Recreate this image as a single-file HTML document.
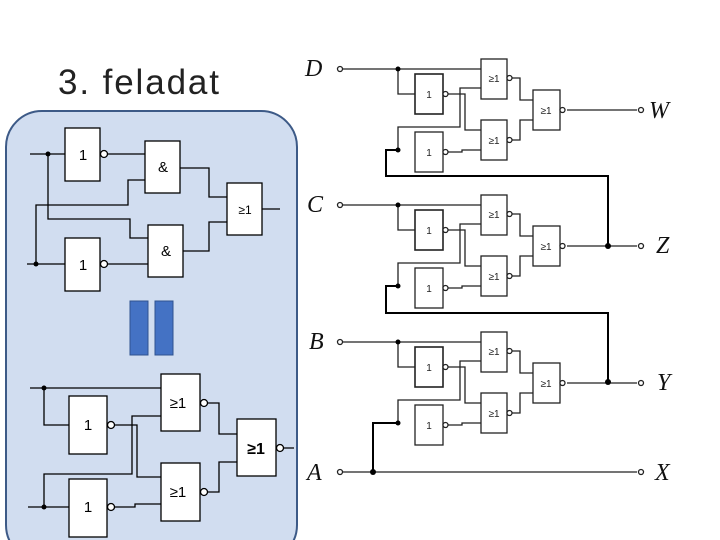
<!DOCTYPE html>
<html><head><meta charset="utf-8"><style>
html,body{margin:0;padding:0;background:#fff;width:720px;height:540px;overflow:hidden}
svg{display:block}
text{font-family:"Liberation Sans",sans-serif}
.it text{font-family:"Liberation Serif",serif;font-style:italic;font-size:24px}
</style></head><body>
<svg width="720" height="540" viewBox="0 0 720 540" xmlns="http://www.w3.org/2000/svg">
<text x="58" y="94" font-size="35" fill="#222" textLength="161" lengthAdjust="spacing">3. feladat</text>
<rect x="6" y="111" width="291" height="450" rx="36" fill="#d1ddf0" stroke="#3d5a87" stroke-width="2"/>
<g fill="none" stroke="#000" stroke-width="1.3">
<rect x="65" y="128" width="35" height="53" fill="#fff"/>
<rect x="65" y="238" width="35" height="53" fill="#fff"/>
<rect x="145" y="141" width="35" height="52" fill="#fff"/>
<rect x="148" y="225" width="35" height="52" fill="#fff"/>
<rect x="227" y="183" width="35" height="52" fill="#fff"/>
<circle cx="104" cy="154" r="3.5" fill="#fff"/>
<circle cx="104" cy="264" r="3.5" fill="#fff"/>
<path d="M30 154H65M108 154H145M27 264H65M108 264H148M48 154V219H130V238H148M36 264V205H128V180H145M180 168H209V197H227M183 251H209V222H227M262 209H280"/>
<rect x="161" y="374" width="39" height="57" fill="#fff"/>
<rect x="161" y="463" width="39" height="58" fill="#fff"/>
<rect x="69" y="396" width="38" height="58" fill="#fff"/>
<rect x="69" y="479" width="38" height="58" fill="#fff"/>
<rect x="237" y="419" width="39" height="57" fill="#fff"/>
<circle cx="111" cy="425" r="3.5" fill="#fff"/>
<circle cx="111" cy="507" r="3.5" fill="#fff"/>
<circle cx="204" cy="403" r="3.5" fill="#fff"/>
<circle cx="204" cy="492" r="3.5" fill="#fff"/>
<circle cx="280" cy="448" r="3.5" fill="#fff"/>
<path d="M30 388H161M44 388V425H69M28 507H69M44 507V474H132V416H161M115 425H137V477H161M115 507H135V504H161M208 403H219V434H237M208 492H219V462H237M284 448H294"/>
</g>
<g fill="#000">
<circle cx="48" cy="154" r="2.5"/><circle cx="36" cy="264" r="2.5"/>
<circle cx="44" cy="388" r="2.5"/><circle cx="44" cy="507" r="2.5"/>
</g>
<g font-size="15" text-anchor="middle" fill="#000">
<text x="83" y="160">1</text><text x="83" y="270">1</text>
<text x="163" y="172">&amp;</text><text x="166" y="256">&amp;</text>
<text x="245" y="214" font-size="12">≥1</text>
<text x="178" y="408">≥1</text><text x="178" y="497">≥1</text>
<text x="88" y="430">1</text><text x="88" y="512">1</text>
<text x="256" y="454" font-size="16" font-weight="bold">≥1</text>
</g>
<rect x="130" y="301" width="18" height="54" fill="#4472c4" stroke="#2f528f"/>
<rect x="155" y="301" width="18" height="54" fill="#4472c4" stroke="#2f528f"/>
<defs>
<g id="blk">
<g fill="none" stroke="#222" stroke-width="1.3">
<path d="M343 69H481M398 69V94H415M398 150V127H460V88H481M448 94H465V130H481M448 152H462V150H481M512 78H520V100H533M512 140H520V120H533M567 110H637"/>
<rect x="481" y="59" width="26" height="40" fill="#fff"/>
<rect x="481" y="120" width="26" height="40" fill="#fff"/>
<rect x="415" y="74" width="28" height="40" fill="#fff" stroke-width="1.6"/>
<rect x="415" y="132" width="28" height="40" fill="#fff"/>
<rect x="533" y="90" width="27" height="40" fill="#fff"/>
<circle cx="445.5" cy="94" r="2.5" fill="#fff"/>
<circle cx="445.5" cy="152" r="2.5" fill="#fff"/>
<circle cx="509.5" cy="78" r="2.5" fill="#fff"/>
<circle cx="509.5" cy="140" r="2.5" fill="#fff"/>
<circle cx="562.5" cy="110" r="2.5" fill="#fff"/>
<circle cx="340" cy="69" r="2.5" fill="#fff"/>
<circle cx="641" cy="110" r="2.5" fill="#fff"/>
</g>
<circle cx="398" cy="69" r="2.5" fill="#000"/>
<circle cx="398" cy="150" r="2.5" fill="#000"/>
<g font-size="10" text-anchor="middle" fill="#222">
<text x="429" y="98">1</text><text x="429" y="156">1</text>
<text x="494" y="82">≥1</text><text x="494" y="144">≥1</text><text x="546" y="114">≥1</text>
</g>
</g>
</defs>
<use href="#blk"/>
<use href="#blk" y="136"/>
<use href="#blk" y="273"/>
<g fill="none" stroke="#000" stroke-width="2">
<path d="M398 150H386V176H608V246M398 286H386V313H608V382M398 423H373V472"/>
</g>
<g fill="none" stroke="#222" stroke-width="1.3">
<path d="M343 472H637"/>
<circle cx="340" cy="472" r="2.5" fill="#fff"/>
<circle cx="641" cy="472" r="2.5" fill="#fff"/>
</g>
<circle cx="608" cy="246" r="3" fill="#000"/>
<circle cx="608" cy="382" r="3" fill="#000"/>
<circle cx="373" cy="472" r="3" fill="#000"/>
<g class="it" fill="#111">
<text x="305" y="76">D</text><text x="649" y="118">W</text>
<text x="307" y="212">C</text><text x="656" y="253">Z</text>
<text x="309" y="349">B</text><text x="657" y="390">Y</text>
<text x="307" y="480">A</text><text x="655" y="480">X</text>
</g>
</svg>
</body></html>
